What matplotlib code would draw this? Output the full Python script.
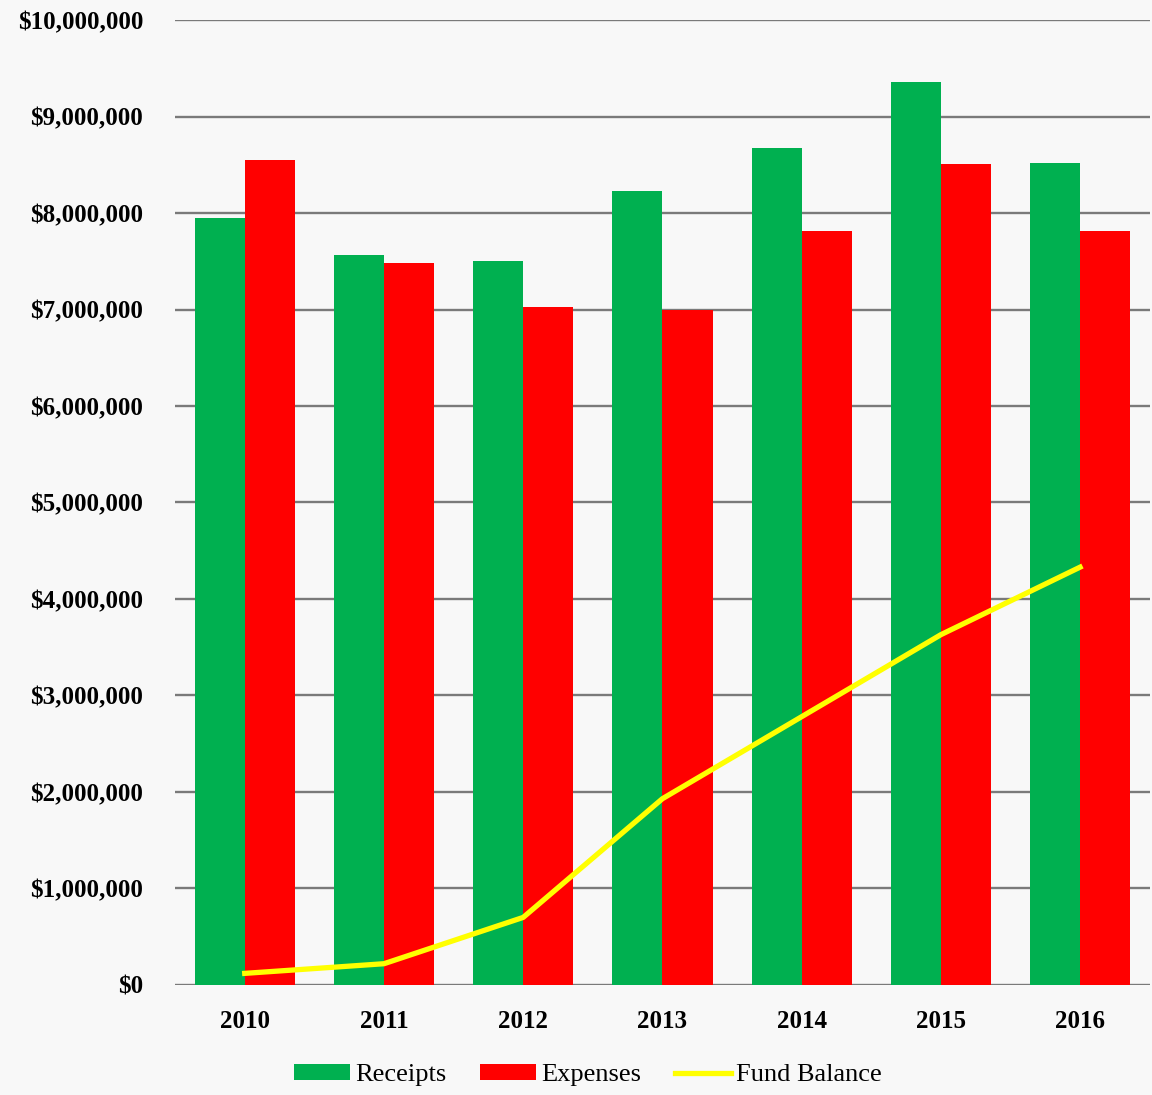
import numpy as np
import matplotlib.pyplot as plt
from matplotlib.ticker import FuncFormatter

years = ["2010", "2011", "2012", "2013", "2014", "2015", "2016"]
receipts = [7950000, 7570000, 7500000, 8230000, 8670000, 9360000, 8520000]
expenses = [8550000, 7480000, 7030000, 7000000, 7810000, 8510000, 7810000]
fund_balance = [120000, 220000, 700000, 1930000, 2780000, 3630000, 4330000]

plt.rcParams['font.family'] = ['Liberation Serif', 'DejaVu Serif']

fig = plt.figure(figsize=(11.52, 10.95), dpi=100)
fig.patch.set_facecolor('#f8f8f8')
ax = fig.add_axes([0.152, 0.1005, 0.846, 0.8812])
ax.set_facecolor('#f8f8f8')

x = np.arange(len(years))
w = 0.36
b1 = ax.bar(x - w/2, receipts, width=w, color='#00B050', label='Receipts', zorder=2)
b2 = ax.bar(x + w/2, expenses, width=w, color='#FF0000', label='Expenses', zorder=2)
l1, = ax.plot(x, fund_balance, color='#FFFF00', linewidth=3.8, label='Fund Balance', zorder=3)

ax.set_xlim(-0.5, 6.5)
ax.set_ylim(0, 10000000)
ax.set_yticks(np.arange(0, 10000001, 1000000))
ax.yaxis.set_major_formatter(FuncFormatter(lambda v, p: '${:,.0f}'.format(v)))
ax.set_xticks(x)
ax.set_xticklabels(years)
ax.grid(axis='y', color='#7a7a7a', linewidth=1.7, zorder=1)
ax.set_axisbelow(True)
for s in ax.spines.values():
    s.set_visible(False)
ax.tick_params(axis='both', length=0, labelsize=18)
ax.tick_params(axis='y', pad=23)
ax.tick_params(axis='x', pad=18)
for lab in ax.get_yticklabels() + ax.get_xticklabels():
    lab.set_fontweight('bold')

fig.legend(handles=[b1, b2, l1], loc='center', bbox_to_anchor=(588/1152, 20/1095),
           ncol=3, frameon=False, fontsize=19, handlelength=2.1, handleheight=0.6,
           columnspacing=1.3, handletextpad=0.2)

fig.savefig('out.png', dpi=100, facecolor=fig.get_facecolor())
